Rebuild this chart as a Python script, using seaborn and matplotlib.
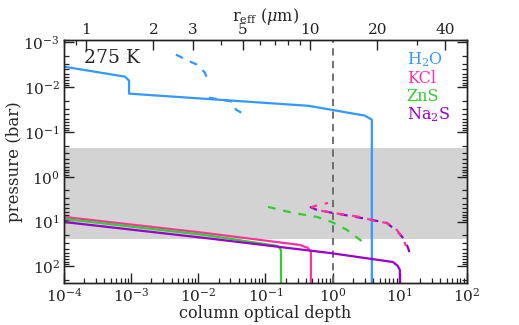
import numpy as np
import pandas as pd
import matplotlib
matplotlib.use("Agg")
import matplotlib.pyplot as plt
import matplotlib.ticker as mticker
import seaborn as sns

# =====================================
# DATA
# =====================================

h2o_tau = [1e-4, 8.1e-4, 9.3e-4, 9.3e-4, 0.44, 3.01, 3.83, 3.83]
h2o_p = [3.47e-3, 5.8e-3, 7.1e-3, 0.0139, 0.026, 0.043, 0.053, 240]

# H2O dashed curve comes in two pieces
h2o_tau_d1 = [4.65e-3, 7.0e-3, 9.5e-3, 0.0125, 0.0139]
h2o_p_d1 = [1.87e-3, 2.54e-3, 3.12e-3, 4.7e-3, 7.1e-3]
h2o_tau_d2 = [0.0144, 0.0327, 0.0363, 0.0493, 0.0528]
h2o_p_d2 = [0.0171, 0.021, 0.0317, 0.041, 0.0455]

kcl_tau = [1e-4, 0.0125, 0.325, 0.428, 0.474, 0.474]
kcl_p = [7.85, 17.9, 33.2, 38.7, 47.6, 240]

kcl_tau_d = [0.85, 0.49, 0.69, 1.0, 2.54, 4.25, 6.41, 9.02, 11.1, 12.3]
kcl_p_d = [3.82, 4.69, 5.76, 6.39, 7.85, 9.65, 10.7, 15.3, 23.2, 35]

zns_tau = [1e-4, 0.0125, 0.153, 0.17, 0.17]
zns_p = [8.7, 19.9, 35, 43, 240]

zns_tau_d = [0.109, 0.256, 0.582, 0.973, 1.63, 2.81]
zns_p_d = [4.69, 6.39, 7.85, 10.2, 15.3, 28.5]

na2s_tau = [1e-4, 0.0125, 0.908, 7.87, 9.33, 10.0, 10.0]
na2s_p = [10.2, 23.2, 50.2, 79.8, 98, 120, 240]

na2s_tau_d = [0.458, 0.582, 1.0, 1.80, 3.23, 6.41, 9.33, 11.9, 13.6, 14.1]
na2s_p_d = [4.69, 5.47, 6.39, 7.45, 8.7, 10.7, 17.0, 25.7, 43, 64.9]

species = ["H$_2$O", "KCl", "ZnS", "Na$_2$S"]
colors = ["#3399ff", "#ff3399", "#33cc33", "#9900cc"]

band = (0.224, 24.4)
reff_ticks = [1, 2, 3, 5, 10, 20, 40]

# =====================================
# STYLE
# =====================================

sns.set_style("ticks")
plt.rcParams['font.family'] = ['DejaVu Serif']
plt.rcParams['mathtext.fontset'] = 'dejavuserif'

fig = plt.figure(figsize=(5.19, 3.25), dpi=100)
ax = fig.add_axes([0.1233, 0.1292, 0.7765, 0.7492])

ax.axhspan(band[0], band[1], color='#d3d3d3', lw=0, zorder=0)
ax.axvline(1.0, color='#666666', ls=(0, (4, 3)), lw=1.3, zorder=1)

solid = [(h2o_tau, h2o_p), (kcl_tau, kcl_p), (zns_tau, zns_p), (na2s_tau, na2s_p)]

for (tx, py), c, name in zip(solid, colors, species):
    sns.lineplot(x=tx, y=py, sort=False, estimator=None, color=c,
                 lw=1.6, ax=ax, label=name)

# dashed curves (offsets so overlapping pink/purple both show)
dashed = [
    (h2o_tau_d1, h2o_p_d1, colors[0], 0),
    (h2o_tau_d2, h2o_p_d2, colors[0], 0),
    (zns_tau_d, zns_p_d, colors[2], 0),
    (na2s_tau_d, na2s_p_d, colors[3], 0),
    (kcl_tau_d, kcl_p_d, colors[1], 2),
]
for tx, py, c, off in dashed:
    sns.lineplot(x=tx, y=py, sort=False, estimator=None, color=c,
                 lw=1.6, ls=(off, (3.5, 3.5)), ax=ax)

ax.set_xscale('log')
ax.set_yscale('log')
ax.set_xlim(1e-4, 1e2)
ax.set_ylim(235, 8.6e-4)

ax.xaxis.set_major_locator(mticker.LogLocator(base=10, numticks=20))
ax.xaxis.set_minor_locator(mticker.LogLocator(base=10, subs=np.arange(2, 10), numticks=20))
ax.yaxis.set_major_locator(mticker.LogLocator(base=10, numticks=20))
ax.yaxis.set_minor_locator(mticker.LogLocator(base=10, subs=np.arange(2, 10), numticks=20))
ax.xaxis.set_minor_formatter(mticker.NullFormatter())
ax.yaxis.set_minor_formatter(mticker.NullFormatter())

ax.tick_params(which='both', direction='in', left=True, right=True,
               bottom=True, top=False, labelsize=11, colors='#222222')
ax.tick_params(which='major', length=7, width=1, pad=3)
ax.tick_params(which='minor', length=3.5, width=0.9)

ax.set_xlabel("column optical depth", fontsize=11.5, labelpad=0)
ax.set_ylabel("pressure (bar)", fontsize=12, labelpad=0)

ax.text(0.05, 0.925, "275 K", transform=ax.transAxes, fontsize=13.5,
        va='center', ha='left')

leg = ax.legend(loc='upper right', frameon=False, handlelength=0,
                handletextpad=0, labelcolor='linecolor', fontsize=11.5,
                borderaxespad=0.3, labelspacing=0.05,
                bbox_to_anchor=(0.985, 1.0))
for h in leg.legend_handles:
    h.set_visible(False)

# top axis: effective radius
ax2 = ax.twiny()
ax2.set_xscale('log')
ax2.set_xlim(0.798, 50.2)
ax2.xaxis.set_major_locator(mticker.FixedLocator(reff_ticks))
ax2.xaxis.set_major_formatter(mticker.FixedFormatter([str(v) for v in reff_ticks]))
ax2.xaxis.set_minor_locator(mticker.LogLocator(base=10, subs=np.arange(2, 10), numticks=20))
ax2.xaxis.set_minor_formatter(mticker.NullFormatter())
ax2.tick_params(which='both', direction='in', labelsize=11, colors='#222222')
ax2.tick_params(which='major', length=7, width=1, pad=2)
ax2.tick_params(which='minor', length=3.5, width=0.9)
ax2.set_xlabel(r"r$_{\rm eff}$ ($\mu$m)", fontsize=11.5, labelpad=1.5)

for a in (ax, ax2):
    for s in a.spines.values():
        s.set_color('#222222')
        s.set_linewidth(1.0)

fig.savefig("out.png", dpi=100)
